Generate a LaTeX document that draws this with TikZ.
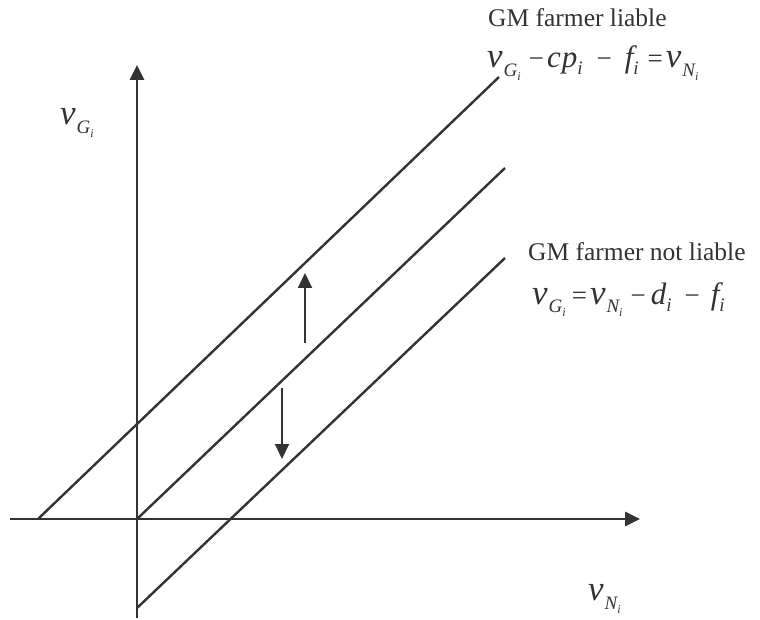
\documentclass[tikz,border=0pt]{standalone}
\usepackage{fontspec}
\setmainfont{Liberation Serif}
\usetikzlibrary{arrows.meta}
\definecolor{ink}{HTML}{333336}
\newcommand\subf{\fontsize{19}{19}\selectfont\itshape}
\newcommand\subsubf{\fontsize{12}{12}\selectfont\itshape}
\newcommand\lsub[1]{\raisebox{-7pt}{\subf #1}}
\newcommand\bigvv{{\fontsize{35}{35}\selectfont\itshape v}}
\newcommand\vsub[1]{\bigvv\kern1pt\raisebox{-9pt}{\subf #1\raisebox{-4pt}{\subsubf i}}}
\newcommand\mminus{{\fontsize{27}{27}\selectfont\upshape\char"2212}}
\newcommand\meq{{\fontsize{27}{27}\selectfont\upshape =}}
\begin{document}
\begin{tikzpicture}[x=1pt,y=-1pt,
  axisline/.style={line width=2.9pt, draw=ink, -{Triangle[length=15pt,width=14pt]}},
  diag/.style={line width=2.4pt, draw=ink},
  movearrow/.style={line width=2pt, draw=ink, -{Triangle[length=15pt,width=14pt]}},
  lbl/.style={inner sep=0pt, anchor=base west, text=ink, font=\fontsize{25.5}{25.5}\selectfont},
  eqn/.style={inner sep=0pt, anchor=base west, text=ink, font=\fontsize{31}{31}\selectfont\itshape},
  axl/.style={inner sep=0pt, anchor=base west, text=ink, font=\fontsize{27}{27}\selectfont\itshape}]
\useasboundingbox (0,0) rectangle (760,620);
% axes
\coordinate (xa) at (10,519);
\coordinate (xb) at (640,519);
\coordinate (ya) at (137,618);
\coordinate (yb) at (137,65);
\draw[axisline] (xa) -- (xb);
\draw[axisline] (ya) -- (yb);
% diagonal lines
\coordinate (l1a) at (38,519);
\coordinate (l1b) at (499,77);
\coordinate (l2a) at (137,519);
\coordinate (l2b) at (505,168);
\coordinate (l3a) at (137,608);
\coordinate (l3b) at (505,258);
\draw[diag] (l1a) -- (l1b);
\draw[diag] (l2a) -- (l2b);
\draw[diag] (l3a) -- (l3b);
% shift arrows
\coordinate (ua) at (305,343);
\coordinate (ub) at (305,273);
\coordinate (da) at (282,388);
\coordinate (db) at (282,459);
\draw[movearrow] (ua) -- (ub);
\draw[movearrow] (da) -- (db);
% labels
\node[lbl] (t1) at (488,27) {GM farmer liable};
\node[eqn] (e1) at (487,68) {\vsub{G}\hspace{8pt}\mminus\hspace{3pt}c\kern1pt p\lsub{i}\hspace{14pt}\mminus\hspace{13pt}f\lsub{i}\hspace{9pt}\meq\hspace{3pt}\vsub{N}};
\node[lbl] (t2) at (528,261) {GM farmer not liable};
\node[eqn] (e2) at (532,304) {\vsub{G}\hspace{6pt}\meq\hspace{3pt}\vsub{N}\hspace{8pt}\mminus\hspace{5pt}d\lsub{i}\hspace{13pt}\mminus\hspace{11pt}f\lsub{i}};
\node[axl] (yl) at (60,125) {\vsub{G}};
\node[axl] (xl) at (588,600) {\vsub{N}};
\end{tikzpicture}
\end{document}
